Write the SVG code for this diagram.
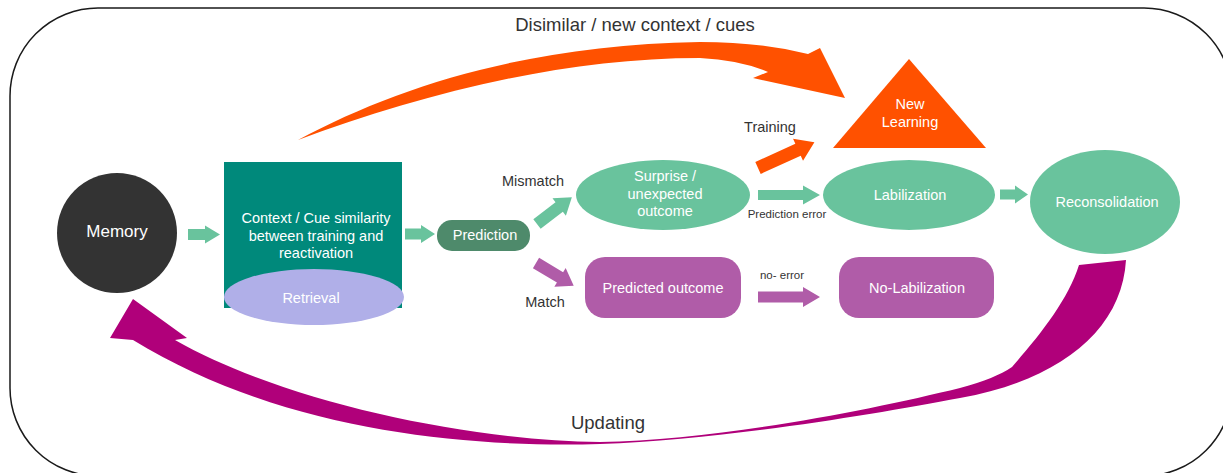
<svg xmlns="http://www.w3.org/2000/svg" width="1223" height="473" viewBox="0 0 1223 473">
<style>
text{font-family:"Liberation Sans",Arial,sans-serif;text-anchor:middle}
.w{fill:#ffffff;font-size:14.5px}
.lbl{fill:#333333;font-size:14.5px}
.sm{fill:#333333;font-size:11.5px}
.big{fill:#333333;font-size:18.5px}
.grn{fill:#69c39d}
.pur{fill:#b05ca8}
.org{fill:#ff5100}
.mag{fill:#b0007a}
</style>
<rect x="10" y="8" width="1222" height="468" rx="88" ry="88" fill="#ffffff" stroke="#1a1a1a" stroke-width="1.5"/>

<g id="connectors">
  <path id="dissimilar-arrow" class="org" d="M298 140 C400 85,530 45,700 42 Q760 42,808 54 L820 48 L845 98 L753 78 L768 72 Q740 60,700 58 C560 58,420 95,298 140 Z"/>
  <path id="updating-arrow" class="mag" d="M1079 265 L1126 260 C1122 330,1060 380,960 398 C870 415,720 440,600 444 C460 448,280 430,133 340 L110 338 L133 299 L187 338 L175 340 C280 400,460 440,600 442 C720 440,870 410,960 388 C985 381,1000 375,1012 367 C1040 335,1068 300,1079 265 Z"/>
  <polygon id="a-mem-ctx" class="grn" transform="translate(188,234.5)" points="0,-5.5 17,-5.5 17,-9 32,0 17,9 17,5.5 0,5.5"/>
  <polygon id="a-ctx-pred" class="grn" transform="translate(405,234)" points="0,-5.5 16,-5.5 16,-9 30,0 16,9 16,5.5 0,5.5"/>
  <polygon id="a-mismatch" class="grn" transform="translate(537,224) rotate(-37.6)" points="0,-6 28,-6 28,-11 44,0 28,11 28,6 0,6"/>
  <polygon id="a-match" class="pur" transform="translate(536,263) rotate(31)" points="0,-6 28,-6 28,-11 44,0 28,11 28,6 0,6"/>
  <polygon id="a-training" class="org" transform="translate(758,168) rotate(-24.5)" points="0,-6.5 44,-6.5 44,-12 62,0 44,12 44,6.5 0,6.5"/>
  <polygon id="a-prederr" class="grn" transform="translate(758,195)" points="0,-5 45,-5 45,-9.5 62,0 45,9.5 45,5 0,5"/>
  <polygon id="a-noerr" class="pur" transform="translate(758,297)" points="0,-5.5 45,-5.5 45,-10 62,0 45,10 45,5.5 0,5.5"/>
  <polygon id="a-lab-recon" class="grn" transform="translate(1000,194.5)" points="0,-5 15,-5 15,-9 28,0 15,9 15,5 0,5"/>
  <text class="big" x="635" y="31">Disimilar / new context / cues</text>
  <text class="big" x="608" y="429">Updating</text>
  <text class="lbl" x="533" y="186">Mismatch</text>
  <text class="lbl" x="545" y="307">Match</text>
  <text class="lbl" x="770" y="132">Training</text>
  <text class="sm" x="787" y="218">Prediction error</text>
  <text class="sm" x="782" y="279">no- error</text>
</g>

<g id="memory">
  <circle cx="117" cy="233" r="60" fill="#333333"/>
  <text class="w" style="font-size:17px" x="117" y="237">Memory</text>
</g>

<g id="context">
  <rect x="224" y="162" width="178" height="146" fill="#00897b"/>
  <text class="w" x="316" y="223">Context / Cue similarity</text>
  <text class="w" x="316" y="241">between training and</text>
  <text class="w" x="316" y="258">reactivation</text>
</g>

<g id="retrieval">
  <ellipse cx="314" cy="297" rx="90" ry="28" fill="#b0afe8"/>
  <text class="w" x="311" y="303">Retrieval</text>
</g>

<g id="prediction">
  <rect x="437" y="220" width="93" height="31" rx="15" ry="15" fill="#4e8a6b"/>
  <text class="w" x="485" y="240">Prediction</text>
</g>

<g id="surprise">
  <ellipse cx="663" cy="195" rx="87" ry="35" class="grn"/>
  <text class="w" x="665" y="181">Surprise /</text>
  <text class="w" x="665" y="199">unexpected</text>
  <text class="w" x="665" y="216">outcome</text>
</g>

<g id="new-learning">
  <polygon points="909,59 986,148 833,148" class="org"/>
  <text class="w" x="910" y="109">New</text>
  <text class="w" x="910" y="127">Learning</text>
</g>

<g id="labilization">
  <ellipse cx="909" cy="195" rx="86" ry="35" class="grn"/>
  <text class="w" x="910" y="200">Labilization</text>
</g>

<g id="reconsolidation">
  <ellipse cx="1105" cy="202" rx="75" ry="52" class="grn"/>
  <text class="w" x="1107" y="207">Reconsolidation</text>
</g>

<g id="predicted-outcome">
  <rect x="585" y="257" width="156" height="61" rx="20" ry="20" class="pur"/>
  <text class="w" x="663" y="293">Predicted outcome</text>
</g>

<g id="no-labilization">
  <rect x="839" y="257" width="155" height="61" rx="20" ry="20" class="pur"/>
  <text class="w" x="917" y="293">No-Labilization</text>
</g>
</svg>
